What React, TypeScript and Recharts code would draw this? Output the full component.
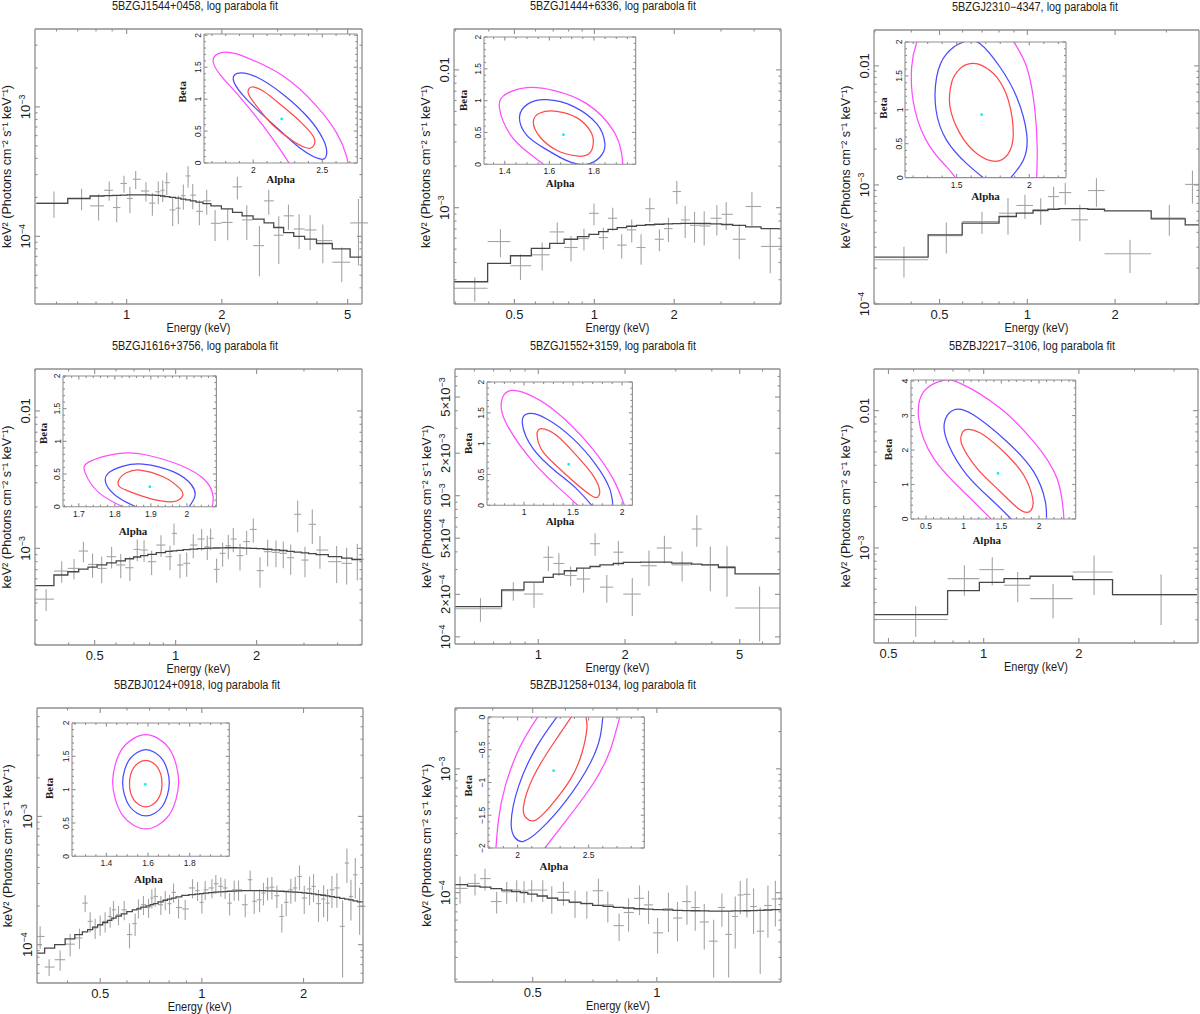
import React from 'react';
import { ComposedChart, XAxis, YAxis, Scatter, Line, ErrorBar } from 'recharts';

const FRAME = '#8f8f8f';
const DATA_C = '#a4a4a4';
const MODEL_C = '#474747';
const TXT = '#1c1c1c';
const RED = '#ff4a4a';
const BLUE = '#4a4aff';
const MAG = '#ff4cff';
const CYAN = '#00eeee';
const SANS = "'Liberation Sans', Arial, Helvetica, sans-serif";
const SERIF = "'Liberation Serif', 'Times New Roman', Times, serif";
const Y_TITLE = 'keV\u00b2 (Photons cm\u207b\u00b2 s\u207b\u00b9 keV\u207b\u00b9)';
const X_TITLE = 'Energy (keV)';

// ---------------- Panel 1 ----------------
const p1Title = '5BZGJ1544+0458, log parabola fit';
const p1Energy = [0.589, 0.72, 0.815, 0.881, 0.93, 0.981, 1.024, 1.068, 1.151, 1.206, 1.259, 1.3, 1.339, 1.398, 1.457, 1.511, 1.564, 1.618, 1.698, 1.791, 1.904, 2.087, 2.24, 2.398, 2.63, 2.814, 3.027, 3.249, 3.511, 3.804, 4.172, 4.79, 5.409];
const p1Flux = [1.805e-4, 1.96e-4, 1.72e-4, 2.27e-4, 1.67e-4, 2.56e-4, 1.96e-4, 2.76e-4, 2.24e-4, 1.805e-4, 2.21e-4, 2.27e-4, 2.6e-4, 1.6e-4, 1.65e-4, 2.06e-4, 2.93e-4, 2.08e-4, 1.56e-4, 1.88e-4, 1.26e-4, 1.28e-4, 2.41e-4, 1.34e-4, 8.48e-5, 1.88e-4, 1.02e-4, 1.44e-4, 1.14e-4, 1.12e-4, 9.26e-5, 6.31e-5, 1.27e-4];
const p1RelErr = [0.23, 0.19, 0.23, 0.17, 0.23, 0.15, 0.23, 0.16, 0.17, 0.2, 0.2, 0.19, 0.2, 0.25, 0.25, 0.22, 0.19, 0.22, 0.22, 0.22, 0.27, 0.27, 0.2, 0.3, 0.42, 0.22, 0.4, 0.22, 0.3, 0.3, 0.33, 0.3, 0.53];
const p1Model = [1.8e-4, 1.96e-4, 2.05e-4, 2.06e-4, 2.07e-4, 2.08e-4, 2.09e-4, 2.09e-4, 2.09e-4, 2.08e-4, 2.07e-4, 2.05e-4, 2.03e-4, 2.0e-4, 1.97e-4, 1.94e-4, 1.91e-4, 1.88e-4, 1.84e-4, 1.79e-4, 1.72e-4, 1.63e-4, 1.53e-4, 1.44e-4, 1.36e-4, 1.27e-4, 1.17e-4, 1.07e-4, 1.0e-4, 0.95e-4, 0.88e-4, 0.8e-4, 0.69e-4];
const p1BinRange = [0.518, 5.8];
const p1XMajor = [1, 2, 5];
const p1XLabels = ['1', '2', '5'];
const p1XMinor = [0.6, 0.7, 0.8, 0.9, 3, 4];
const p1YMajor = [1e-4, 1e-3];
const p1YLabels = ['10^\u22124', '10^\u22123'];
const p1YMinor = [4e-5, 5e-5, 6e-5, 7e-5, 8e-5, 9e-5, 2e-4, 3e-4, 4e-4, 5e-4, 6e-4, 7e-4, 8e-4, 9e-4, 2e-3, 3e-3];

// ---------------- Panel 2 ----------------
const p2Title = '5BZGJ1444+6336, log parabola fit';
const p2Energy = [0.3545, 0.443, 0.527, 0.636, 0.725, 0.817, 0.914, 0.997, 1.081, 1.173, 1.268, 1.383, 1.5, 1.618, 1.759, 1.902, 2.045, 2.199, 2.385, 2.594, 2.895, 3.14, 3.516, 3.924, 4.6];
const p2Flux = [2.6e-4, 5.68e-4, 3.79e-4, 4.55e-4, 6.67e-4, 5.14e-4, 5.97e-4, 9.1e-4, 6.07e-4, 8.38e-4, 5.35e-4, 6.9e-4, 5.14e-4, 9.84e-4, 5.9e-4, 7.05e-4, 1.31e-3, 8.15e-4, 7.45e-4, 7.37e-4, 8.38e-4, 8.95e-4, 5.9e-4, 1.02e-3, 5.23e-4];
const p2RelErr = [0.2, 0.23, 0.21, 0.23, 0.17, 0.21, 0.18, 0.18, 0.18, 0.19, 0.2, 0.19, 0.25, 0.2, 0.18, 0.2, 0.19, 0.26, 0.25, 0.28, 0.25, 0.23, 0.28, 0.28, 0.36];
const p2Model = [2.9e-4, 3.94e-4, 4.48e-4, 5.06e-4, 5.5e-4, 5.9e-4, 6.17e-4, 6.4e-4, 6.7e-4, 6.97e-4, 7.16e-4, 7.33e-4, 7.45e-4, 7.52e-4, 7.58e-4, 7.63e-4, 7.67e-4, 7.7e-4, 7.7e-4, 7.68e-4, 7.62e-4, 7.55e-4, 7.45e-4, 7.25e-4, 7.05e-4];
const p2BinRange = [0.296, 5.1];
const p2XMajor = [0.5, 1, 2];
const p2XLabels = ['0.5', '1', '2'];
const p2XMinor = [0.3, 0.4, 0.6, 0.7, 0.8, 0.9, 3, 4, 5];
const p2YMajor = [1e-3, 1e-2];
const p2YLabels = ['10^\u22123', '0.01'];
const p2YMinor = [3e-4, 4e-4, 5e-4, 6e-4, 7e-4, 8e-4, 9e-4, 2e-3, 3e-3, 4e-3, 5e-3, 6e-3, 7e-3, 8e-3, 9e-3];

// ---------------- Panel 3 ----------------
const p3Title = '5BZGJ2310\u22124347, log parabola fit';
const p3Edges = [0.298, 0.457, 0.598, 0.8, 0.917, 1.046, 1.177, 1.284, 1.415, 1.613, 1.84, 2.66, 3.48, 3.89];
const p3Flux = [2.35e-4, 3.74e-4, 4.93e-4, 5.79e-4, 6.72e-4, 6.18e-4, 7.98e-4, 8.63e-4, 5.09e-4, 8.97e-4, 2.64e-4, 5.26e-4, 1.01e-3];
const p3RelErr = [0.29, 0.29, 0.21, 0.34, 0.23, 0.25, 0.21, 0.21, 0.34, 0.27, 0.31, 0.29, 0.31];
const p3Model = [2.48e-4, 3.81e-4, 4.77e-4, 5.43e-4, 5.79e-4, 6.1e-4, 6.25e-4, 6.33e-4, 6.33e-4, 6.25e-4, 6.06e-4, 5.19e-4, 4.62e-4];
const p3XMajor = [0.5, 1, 2];
const p3XLabels = ['0.5', '1', '2'];
const p3XMinor = [0.3, 0.4, 0.6, 0.7, 0.8, 0.9, 3];
const p3YMajor = [1e-4, 1e-3, 1e-2];
const p3YLabels = ['10^\u22124', '10^\u22123', '0.01'];
const p3YMinor = [2e-4, 3e-4, 4e-4, 5e-4, 6e-4, 7e-4, 8e-4, 9e-4, 2e-3, 3e-3, 4e-3, 5e-3, 6e-3, 7e-3, 8e-3, 9e-3];

// ---------------- Panel 4 ----------------
const p4Title = '5BZGJ1616+3756, log parabola fit';
const p4Energy = [0.33, 0.377, 0.419, 0.454, 0.491, 0.531, 0.578, 0.625, 0.676, 0.72, 0.763, 0.814, 0.882, 0.953, 0.986, 1.038, 1.099, 1.163, 1.249, 1.311, 1.349, 1.42, 1.495, 1.57, 1.638, 1.735, 1.836, 1.944, 2.059, 2.198, 2.36, 2.513, 2.677, 2.842, 3.026, 3.222, 3.44, 3.968, 4.322, 4.735];
const p4Flux = [4.27e-4, 6.84e-4, 7.15e-4, 9.56e-4, 7.64e-4, 7.15e-4, 8.7e-4, 7.57e-4, 7.23e-4, 9.83e-4, 9.72e-4, 8.0e-4, 1.057e-3, 8.7e-4, 1.285e-3, 7.57e-4, 7.78e-4, 1.057e-3, 1.17e-3, 1.028e-3, 1.183e-3, 7.03e-4, 9.2e-4, 1.045e-3, 1.17e-3, 8.85e-4, 1.12e-3, 1.374e-3, 6.88e-4, 9.46e-4, 9.35e-4, 9.2e-4, 8.55e-4, 1.77e-3, 8.22e-4, 1.496e-3, 9.72e-4, 8.0e-4, 7.78e-4, 8.32e-4];
const p4RelErr = [0.18, 0.18, 0.17, 0.17, 0.2, 0.22, 0.18, 0.2, 0.2, 0.18, 0.18, 0.2, 0.18, 0.2, 0.18, 0.2, 0.2, 0.2, 0.18, 0.2, 0.18, 0.2, 0.2, 0.2, 0.2, 0.22, 0.2, 0.2, 0.25, 0.22, 0.22, 0.22, 0.25, 0.26, 0.25, 0.28, 0.27, 0.3, 0.3, 0.3];
const p4Model = [5.35e-4, 6.4e-4, 6.76e-4, 7.05e-4, 7.3e-4, 7.57e-4, 7.85e-4, 8.1e-4, 8.4e-4, 8.65e-4, 8.85e-4, 9.05e-4, 9.3e-4, 9.5e-4, 9.58e-4, 9.68e-4, 9.78e-4, 9.87e-4, 9.95e-4, 1.0e-3, 1.003e-3, 1.006e-3, 1.008e-3, 1.01e-3, 1.01e-3, 1.008e-3, 1.005e-3, 1.0e-3, 9.95e-4, 9.85e-4, 9.75e-4, 9.65e-4, 9.5e-4, 9.4e-4, 9.28e-4, 9.15e-4, 9.0e-4, 8.7e-4, 8.5e-4, 8.3e-4];
const p4BinRange = [0.3, 5.0];
const p4XMajor = [0.5, 1, 2];
const p4XLabels = ['0.5', '1', '2'];
const p4XMinor = [0.3, 0.4, 0.6, 0.7, 0.8, 0.9, 3, 4];
const p4YMajor = [1e-3, 1e-2];
const p4YLabels = ['10^\u22123', '0.01'];
const p4YMinor = [2e-4, 3e-4, 4e-4, 5e-4, 6e-4, 7e-4, 8e-4, 9e-4, 2e-3, 3e-3, 4e-3, 5e-3, 6e-3, 7e-3, 8e-3, 9e-3];

// ---------------- Panel 5 ----------------
const p5Title = '5BZGJ1552+3159, log parabola fit';
const p5Edges = [0.514, 0.746, 0.892, 1.041, 1.127, 1.231, 1.359, 1.512, 1.637, 1.821, 1.973, 2.266, 2.576, 2.904, 3.408, 3.691, 4.217, 4.819, 6.904];
const p5Flux = [1.58e-4, 2.12e-4, 2.01e-4, 3.66e-4, 3.31e-4, 2.72e-4, 2.57e-4, 4.57e-4, 2.25e-4, 3.98e-4, 2.01e-4, 3.19e-4, 4.26e-4, 3.24e-4, 5.81e-4, 3.24e-4, 3.15e-4, 1.6e-4];
const p5RelErr = [0.19, 0.15, 0.2, 0.2, 0.18, 0.16, 0.2, 0.18, 0.22, 0.2, 0.3, 0.28, 0.22, 0.24, 0.25, 0.35, 0.39, 0.42];
const p5Model = [1.64e-4, 2.15e-4, 2.44e-4, 2.64e-4, 2.78e-4, 2.94e-4, 3.07e-4, 3.15e-4, 3.24e-4, 3.31e-4, 3.37e-4, 3.38e-4, 3.38e-4, 3.33e-4, 3.28e-4, 3.24e-4, 3.1e-4, 2.79e-4];
const p5XMajor = [1, 2, 5];
const p5XLabels = ['1', '2', '5'];
const p5XMinor = [0.6, 0.7, 0.8, 0.9, 3, 4, 6];
const p5YMajor = [1e-4, 2e-4, 5e-4, 1e-3, 2e-3, 5e-3];
const p5YLabels = ['10^\u22124', '2\u00d710^\u22124', '5\u00d710^\u22124', '10^\u22123', '2\u00d710^\u22123', '5\u00d710^\u22123'];
const p5YMinor = [3e-4, 4e-4, 6e-4, 7e-4, 8e-4, 9e-4, 3e-3, 4e-3, 6e-3, 7e-3];

// ---------------- Panel 6 ----------------
const p6Title = '5BZBJ2217\u22123106, log parabola fit';
const p6Edges = [0.45, 0.769, 0.969, 1.16, 1.402, 1.912, 2.555, 4.721];
const p6Flux = [3.01e-4, 5.98e-4, 6.95e-4, 5.35e-4, 4.27e-4, 6.68e-4, 4.57e-4];
const p6RelErr = [0.25, 0.25, 0.23, 0.25, 0.28, 0.32, 0.4];
const p6Model = [3.27e-4, 4.89e-4, 5.62e-4, 5.98e-4, 6.22e-4, 5.88e-4, 4.57e-4];
const p6XMajor = [0.5, 1, 2];
const p6XLabels = ['0.5', '1', '2'];
const p6XMinor = [0.6, 0.7, 0.8, 0.9, 3, 4];
const p6YMajor = [1e-3, 1e-2];
const p6YLabels = ['10^\u22123', '0.01'];
const p6YMinor = [3e-4, 4e-4, 5e-4, 6e-4, 7e-4, 8e-4, 9e-4, 2e-3, 3e-3, 4e-3, 5e-3, 6e-3, 7e-3, 8e-3, 9e-3];

// ---------------- Panel 7 ----------------
const p7Title = '5BZBJ0124+0918, log parabola fit';
const p7Energy = [0.332, 0.353, 0.3805, 0.4074, 0.4342, 0.4513, 0.467, 0.4831, 0.4999, 0.5172, 0.5351, 0.5475, 0.5665, 0.5888, 0.6106, 0.6346, 0.6491, 0.6716, 0.6952, 0.7111, 0.7274, 0.7562, 0.7792, 0.8023, 0.8244, 0.853, 0.8925, 0.9384, 0.9709, 1.0, 1.023, 1.071, 1.1, 1.138, 1.172, 1.208, 1.247, 1.284, 1.344, 1.39, 1.429, 1.482, 1.522, 1.565, 1.612, 1.668, 1.725, 1.777, 1.834, 1.89, 1.946, 2.01, 2.084, 2.141, 2.215, 2.293, 2.356, 2.427, 2.511, 2.61, 2.688, 2.763, 2.846, 2.931];
const p7Flux = [1.16e-4, 6.7e-5, 7.64e-5, 1.01e-4, 1.13e-4, 2.11e-4, 1.52e-4, 1.35e-4, 1.43e-4, 1.52e-4, 1.66e-4, 1.87e-4, 1.71e-4, 1.87e-4, 1.2e-4, 1.46e-4, 1.93e-4, 2.05e-4, 1.95e-4, 2.31e-4, 2.38e-4, 2.05e-4, 2.24e-4, 2.09e-4, 2.56e-4, 1.95e-4, 1.9e-4, 2.77e-4, 2.64e-4, 2.14e-4, 2.68e-4, 2.77e-4, 2.99e-4, 2.85e-4, 2.77e-4, 2.11e-4, 2.68e-4, 2.68e-4, 2.05e-4, 3.21e-4, 2.18e-4, 2.24e-4, 2.53e-4, 2.77e-4, 2.81e-4, 2.41e-4, 1.66e-4, 2.14e-4, 2.68e-4, 2.77e-4, 3.4e-4, 2.31e-4, 2.72e-4, 2.85e-4, 2.09e-4, 2.27e-4, 2.11e-4, 2.68e-4, 2.77e-4, 1.39e-4, 4.33e-4, 2.38e-4, 3.51e-4, 1.99e-4];
const p7RelErr = [0.2, 0.15, 0.18, 0.2, 0.18, 0.15, 0.18, 0.18, 0.18, 0.18, 0.18, 0.17, 0.17, 0.17, 0.22, 0.2, 0.17, 0.17, 0.17, 0.17, 0.17, 0.17, 0.17, 0.17, 0.17, 0.18, 0.18, 0.17, 0.17, 0.18, 0.17, 0.17, 0.17, 0.17, 0.18, 0.2, 0.18, 0.18, 0.2, 0.18, 0.2, 0.2, 0.2, 0.2, 0.2, 0.2, 0.25, 0.22, 0.22, 0.22, 0.22, 0.25, 0.25, 0.25, 0.28, 0.28, 0.28, 0.28, 0.3, 0.6, 0.3, 0.35, 0.35, 0.4];
const p7Model = [8.6e-5, 9.4e-5, 1.0e-4, 1.11e-4, 1.2e-4, 1.26e-4, 1.31e-4, 1.37e-4, 1.43e-4, 1.49e-4, 1.55e-4, 1.61e-4, 1.67e-4, 1.74e-4, 1.81e-4, 1.87e-4, 1.9e-4, 1.96e-4, 2.01e-4, 2.05e-4, 2.09e-4, 2.16e-4, 2.22e-4, 2.27e-4, 2.31e-4, 2.36e-4, 2.42e-4, 2.46e-4, 2.48e-4, 2.5e-4, 2.52e-4, 2.55e-4, 2.57e-4, 2.58e-4, 2.59e-4, 2.61e-4, 2.62e-4, 2.63e-4, 2.64e-4, 2.64e-4, 2.64e-4, 2.64e-4, 2.64e-4, 2.63e-4, 2.63e-4, 2.62e-4, 2.61e-4, 2.6e-4, 2.58e-4, 2.57e-4, 2.56e-4, 2.54e-4, 2.51e-4, 2.49e-4, 2.46e-4, 2.43e-4, 2.4e-4, 2.37e-4, 2.34e-4, 2.3e-4, 2.27e-4, 2.24e-4, 2.2e-4, 2.16e-4];
const p7BinRange = [0.325, 3.05];
const p7XMajor = [0.5, 1, 2];
const p7XLabels = ['0.5', '1', '2'];
const p7XMinor = [0.4, 0.6, 0.7, 0.8, 0.9];
const p7YMajor = [1e-4, 1e-3];
const p7YLabels = ['10^\u22124', '10^\u22123'];
const p7YMinor = [6e-5, 7e-5, 8e-5, 9e-5, 2e-4, 3e-4, 4e-4, 5e-4, 6e-4, 7e-4, 8e-4, 9e-4, 2e-3, 3e-3, 4e-3, 5e-3, 6e-3];

// ---------------- Panel 8 ----------------
const p8Title = '5BZBJ1258+0134, log parabola fit';
const p8Energy = [0.3332, 0.3623, 0.3831, 0.4088, 0.4324, 0.4572, 0.4764, 0.4971, 0.5288, 0.5561, 0.5935, 0.6333, 0.6764, 0.7217, 0.7605, 0.81, 0.8537, 0.9077, 0.9545, 1.004, 1.067, 1.122, 1.183, 1.239, 1.303, 1.373, 1.438, 1.493, 1.549, 1.593, 1.653, 1.716, 1.781, 1.859, 1.938];
const p8Flux = [1.083e-4, 1.187e-4, 1.3e-4, 8.48e-5, 1.018e-4, 1.05e-4, 1.031e-4, 1.05e-4, 1.05e-4, 9.01e-5, 1.006e-4, 8.32e-5, 8.22e-5, 1.037e-4, 7.97e-5, 5.42e-5, 6.92e-5, 9.01e-5, 7.97e-5, 4.74e-5, 7.41e-5, 6.24e-5, 8.48e-5, 7.59e-5, 5.8e-5, 4.06e-5, 7.59e-5, 4.6e-5, 6.43e-5, 9.58e-5, 9.7e-5, 7.73e-5, 4.89e-5, 7.88e-5, 8.9e-5];
const p8RelErr = [0.25, 0.2, 0.2, 0.2, 0.2, 0.2, 0.2, 0.2, 0.2, 0.25, 0.22, 0.25, 0.25, 0.25, 0.28, 0.25, 0.3, 0.27, 0.3, 0.32, 0.35, 0.35, 0.35, 0.35, 0.4, 0.49, 0.3, 0.55, 0.45, 0.3, 0.35, 0.4, 0.55, 0.45, 0.4];
const p8Model = [1.16e-4, 1.13e-4, 1.11e-4, 1.08e-4, 1.05e-4, 1.02e-4, 1.0e-4, 9.75e-5, 9.4e-5, 9.05e-5, 8.7e-5, 8.4e-5, 8.15e-5, 7.9e-5, 7.75e-5, 7.6e-5, 7.52e-5, 7.42e-5, 7.37e-5, 7.3e-5, 7.26e-5, 7.21e-5, 7.17e-5, 7.15e-5, 7.13e-5, 7.11e-5, 7.1e-5, 7.1e-5, 7.12e-5, 7.13e-5, 7.15e-5, 7.17e-5, 7.2e-5, 7.25e-5, 7.3e-5];
const p8BinRange = [0.324, 2.02];
const p8XMajor = [0.5, 1];
const p8XLabels = ['0.5', '1'];
const p8XMinor = [0.4, 0.6, 0.7, 0.8, 0.9];
const p8YMajor = [1e-4, 1e-3];
const p8YLabels = ['10^\u22124', '10^\u22123'];
const p8YMinor = [2e-5, 3e-5, 4e-5, 5e-5, 6e-5, 7e-5, 8e-5, 9e-5, 2e-4, 3e-4, 4e-4, 5e-4, 6e-4, 7e-4, 8e-4, 9e-4, 2e-3, 3e-3];

// ---------------- Inset contours (Alpha, Beta) ----------------
const i1Red = [[1.988, 1.19], [2.072, 1.127], [2.217, 0.88], [2.35, 0.629], [2.435, 0.419], [2.442, 0.288], [2.399, 0.231], [2.29, 0.341], [2.145, 0.587], [2.024, 0.891], [1.964, 1.09]];
const i1Blue = [[1.884, 1.405], [2.024, 1.347], [2.217, 1.074], [2.399, 0.708], [2.507, 0.367], [2.531, 0.131], [2.483, 0.063], [2.338, 0.236], [2.145, 0.603], [1.952, 0.996], [1.86, 1.268]];
const i1Mag = [[2.29, -0.105], [2.145, 0.367], [1.928, 0.97], [1.758, 1.389], [1.71, 1.625], [1.771, 1.73], [1.855, 1.72], [1.952, 1.651], [2.217, 1.363], [2.459, 0.891], [2.604, 0.472], [2.676, 0.105], [2.7, -0.21]];
const i1Center = [2.206, 0.69];

const i2Red = [[1.528, 0.665], [1.558, 0.806], [1.633, 0.832], [1.722, 0.733], [1.782, 0.534], [1.797, 0.335], [1.775, 0.157], [1.722, 0.131], [1.633, 0.22], [1.558, 0.429]];
const i2Blue = [[1.466, 0.743], [1.506, 0.953], [1.588, 1.016], [1.707, 0.911], [1.812, 0.639], [1.849, 0.325], [1.827, 0.115], [1.767, 0.0], [1.692, 0.037], [1.588, 0.23], [1.499, 0.455]];
const i2Mag = [[1.603, -0.079], [1.506, 0.183], [1.424, 0.471], [1.376, 0.901], [1.409, 1.11], [1.499, 1.204], [1.618, 1.162], [1.767, 0.953], [1.886, 0.534], [1.924, 0.168], [1.931, -0.094]];
const i2Center = [1.663, 0.466];

const i3Red = [[1.592, 1.681], [1.672, 1.656], [1.775, 1.484], [1.856, 1.14], [1.89, 0.649], [1.856, 0.354], [1.764, 0.241], [1.638, 0.354], [1.523, 0.649], [1.454, 1.042], [1.466, 1.41], [1.523, 1.607]];
const i3Blue = [[1.706, -0.04], [1.569, 0.206], [1.431, 0.55], [1.358, 0.993], [1.362, 1.484], [1.431, 1.828], [1.546, 2.0], [1.661, 1.975], [1.798, 1.631], [1.913, 1.189], [1.982, 0.649], [1.959, 0.256], [1.856, -0.04]];
const i3MagLeft = [[1.236, 2.07], [1.225, 2.0], [1.19, 1.631], [1.213, 0.993], [1.317, 0.452], [1.431, 0.157], [1.505, -0.04]];
const i3MagRight = [[1.878, 2.05], [1.982, 1.631], [2.039, 0.993], [2.055, 0.403], [2.05, -0.04]];
const i3Center = [1.672, 0.929];

const i4Red = [[1.811, 0.408], [1.832, 0.52], [1.869, 0.561], [1.934, 0.459], [1.98, 0.281], [1.988, 0.163], [1.962, 0.077], [1.906, 0.112], [1.841, 0.23], [1.813, 0.306]];
const i4Blue = [[1.878, -0.051], [1.813, 0.128], [1.777, 0.332], [1.781, 0.51], [1.823, 0.622], [1.878, 0.653], [1.962, 0.536], [2.013, 0.332], [2.022, 0.153], [2.003, -0.026]];
const i4Mag = [[1.841, -0.051], [1.758, 0.204], [1.718, 0.51], [1.73, 0.689], [1.813, 0.816], [1.888, 0.791], [1.98, 0.638], [2.05, 0.408], [2.073, 0.153], [2.068, -0.051]];
const i4Center = [1.897, 0.306];

const i5Red = [[1.177, 1.243], [1.33, 1.135], [1.534, 0.811], [1.704, 0.486], [1.772, 0.243], [1.738, 0.124], [1.636, 0.216], [1.398, 0.541], [1.194, 0.865], [1.133, 1.135]];
const i5Blue = [[1.721, -0.054], [1.534, 0.27], [1.33, 0.541], [1.092, 0.919], [0.983, 1.324], [1.041, 1.486], [1.228, 1.405], [1.5, 1.081], [1.738, 0.649], [1.874, 0.27], [1.908, -0.027]];
const i5Mag = [[1.585, -0.054], [1.364, 0.27], [1.092, 0.703], [0.82, 1.324], [0.769, 1.676], [0.837, 1.849], [1.024, 1.811], [1.33, 1.514], [1.67, 0.973], [1.908, 0.432], [2.037, -0.054]];
const i5Center = [1.456, 0.665];

const i6Red = [[1.066, 2.599], [1.265, 2.435], [1.575, 1.855], [1.796, 1.275], [1.916, 0.599], [1.885, 0.232], [1.752, 0.261], [1.487, 0.792], [1.177, 1.469], [0.978, 2.145], [0.978, 2.483]];
const i6Blue = [[1.664, -0.077], [1.398, 0.502], [1.044, 1.275], [0.801, 2.145], [0.743, 2.773], [0.867, 3.159], [1.133, 3.014], [1.575, 2.242], [1.929, 1.372], [2.084, 0.502], [2.097, -0.077]];
const i6Mag = [[1.42, -0.126], [1.044, 0.696], [0.602, 1.758], [0.403, 2.918], [0.469, 3.691], [0.69, 4.0], [0.956, 3.932], [1.487, 3.208], [1.929, 2.242], [2.239, 1.179], [2.327, 0.116], [2.336, -0.174]];
const i6Center = [1.456, 1.324];

const i7Red = [[1.589, 1.44], [1.645, 1.337], [1.667, 1.09], [1.645, 0.843], [1.589, 0.74], [1.533, 0.843], [1.511, 1.09], [1.533, 1.337]];
const i7Blue = [[1.59, 1.6], [1.669, 1.455], [1.702, 1.103], [1.669, 0.751], [1.59, 0.605], [1.511, 0.751], [1.478, 1.103], [1.511, 1.455]];
const i7Mag = [[1.589, 1.825], [1.701, 1.618], [1.747, 1.118], [1.701, 0.618], [1.589, 0.41], [1.477, 0.618], [1.43, 1.118], [1.477, 1.618]];
const i7Center = [1.587, 1.08];

const i8Red = [[2.39, 0.036], [2.254, -0.397], [2.113, -0.906], [2.042, -1.364], [2.061, -1.542], [2.124, -1.578], [2.23, -1.364], [2.371, -0.957], [2.453, -0.55], [2.488, -0.168], [2.477, 0.036]];
const i8Blue = [[2.289, 0.036], [2.136, -0.448], [2.007, -1.059], [1.955, -1.618], [1.984, -1.847], [2.042, -1.898], [2.16, -1.72], [2.347, -1.262], [2.512, -0.702], [2.582, -0.295], [2.601, 0.036]];
const i8MagLeft = [[2.16, 0.061], [2.019, -0.448], [1.913, -1.059], [1.866, -1.567], [1.847, -2.025]];
const i8MagRight = [[2.183, -2.025], [2.347, -1.567], [2.535, -1.008], [2.653, -0.499], [2.723, 0.036]];
const i8Center = [2.254, -0.819];

// inset tick lists
const beta02Major = [0, 0.5, 1, 1.5, 2];
const beta02Labels = ['0', '0.5', '1', '1.5', '2'];
const beta02Minor = [0.1, 0.2, 0.3, 0.4, 0.6, 0.7, 0.8, 0.9, 1.1, 1.2, 1.3, 1.4, 1.6, 1.7, 1.8, 1.9];
const beta04Major = [0, 1, 2, 3, 4];
const beta04Labels = ['0', '1', '2', '3', '4'];
const beta04Minor = [0.2, 0.4, 0.6, 0.8, 1.2, 1.4, 1.6, 1.8, 2.2, 2.4, 2.6, 2.8, 3.2, 3.4, 3.6, 3.8];
const betaNegMajor = [-2, -1.5, -1, -0.5, 0];
const betaNegLabels = ['\u22122', '\u22121.5', '\u22121', '\u22120.5', '0'];
const betaNegMinor = [-1.9, -1.8, -1.7, -1.6, -1.4, -1.3, -1.2, -1.1, -0.9, -0.8, -0.7, -0.6, -0.4, -0.3, -0.2, -0.1];

// ---------------- helpers ----------------
function Lbl(props: any) {
  const { s, ...rest } = props;
  const i = s.indexOf('^');
  if (i < 0) return <text {...rest}>{s}</text>;
  const supSize = rest.fontSize * 0.68;
  return (
    <text {...rest}>
      {s.slice(0, i)}
      <tspan dy={-rest.fontSize * 0.4} fontSize={supSize}>{s.slice(i + 1)}</tspan>
    </text>
  );
}

function mkTick(side: string, major: number[], labels: string[] | null, big: number, small: number, fs: number, off: number) {
  return (props: any) => {
    const x = Number(props.x);
    const y = Number(props.y);
    const v = Number(props.payload && props.payload.value);
    const k = major.findIndex((m) => Math.abs(m - v) <= Math.abs(m) * 1e-6 + 1e-12);
    const len = k >= 0 ? big : small;
    let c = [x, y, x, y];
    if (side === 'bottom') c = [x, y, x, y - len];
    else if (side === 'top') c = [x, y, x, y + len];
    else if (side === 'left') c = [x, y, x + len, y];
    else c = [x, y, x - len, y];
    let text = null;
    if (labels && k >= 0) {
      const s = labels[k];
      if (side === 'bottom') {
        text = <Lbl s={s} x={x} y={y + off} textAnchor="middle" fontSize={fs} fontFamily={SANS} fill={TXT} />;
      } else if (side === 'left') {
        const tx = x - off;
        text = <Lbl s={s} x={tx} y={y} textAnchor="middle" fontSize={fs} fontFamily={SANS} fill={TXT} transform={`rotate(-90 ${tx} ${y})`} />;
      }
    }
    return (
      <g>
        <line x1={c[0]} y1={c[1]} x2={c[2]} y2={c[3]} stroke={FRAME} strokeWidth={1.1} />
        {text}
      </g>
    );
  };
}

function closedCurve(context: any) {
  let pts: number[][] = [];
  return {
    areaStart() {},
    areaEnd() {},
    lineStart() { pts = []; },
    point(x: number, y: number) { pts.push([+x, +y]); },
    lineEnd() {
      const n = pts.length;
      if (!n) return;
      context.moveTo(pts[0][0], pts[0][1]);
      for (let i = 0; i < n; i++) {
        const p0 = pts[(i - 1 + n) % n];
        const p1 = pts[i];
        const p2 = pts[(i + 1) % n];
        const p3 = pts[(i + 2) % n];
        context.bezierCurveTo(
          p1[0] + (p2[0] - p0[0]) / 6, p1[1] + (p2[1] - p0[1]) / 6,
          p2[0] - (p3[0] - p1[0]) / 6, p2[1] - (p3[1] - p1[1]) / 6,
          p2[0], p2[1]
        );
      }
      context.closePath();
    },
  };
}

const noShape = () => <g />;
const cyanDot = (props: any) => (
  <rect x={props.cx - 1.2} y={props.cy - 1.2} width={2.4} height={2.4} fill={CYAN} />
);

function makeBins(p: any) {
  if (p.edges) {
    const lo = p.edges.slice(0, -1);
    const hi = p.edges.slice(1);
    const c = lo.map((v: number, i: number) => (v + hi[i]) / 2);
    return { lo, hi, c };
  }
  const c = p.energy;
  const mids = c.slice(1).map((v: number, i: number) => Math.sqrt(v * c[i]));
  const lo = [p.binRange[0], ...mids];
  const hi = [...mids, p.binRange[1]];
  return { lo, hi, c };
}

const sortNum = (a: number[]) => [...a].sort((u, v) => u - v);

// ---------------- layout ----------------
const panels = [
  { title: p1Title, titleX: 195, frame: { l: 35, t: 29, r: 362, b: 304 }, xDomain: [0.513, 5.55], yDomain: [3.0e-5, 4.0e-3], energy: p1Energy, binRange: p1BinRange, flux: p1Flux, relErr: p1RelErr, model: p1Model, xMajor: p1XMajor, xLabels: p1XLabels, xMinor: p1XMinor, yMajor: p1YMajor, yLabels: p1YLabels, yMinor: p1YMinor },
  { title: p2Title, titleX: 613, frame: { l: 454, t: 29, r: 781, b: 304 }, xDomain: [0.296, 5.05], yDomain: [2.0e-4, 1.98e-2], energy: p2Energy, binRange: p2BinRange, flux: p2Flux, relErr: p2RelErr, model: p2Model, xMajor: p2XMajor, xLabels: p2XLabels, xMinor: p2XMinor, yMajor: p2YMajor, yLabels: p2YLabels, yMinor: p2YMinor },
  { title: p3Title, titleX: 1035, frame: { l: 874, t: 30, r: 1199, b: 304 }, xDomain: [0.298, 3.88], yDomain: [1.0e-4, 2.0e-2], edges: p3Edges, flux: p3Flux, relErr: p3RelErr, model: p3Model, xMajor: p3XMajor, xLabels: p3XLabels, xMinor: p3XMinor, yMajor: p3YMajor, yLabels: p3YLabels, yMinor: p3YMinor },
  { title: p4Title, titleX: 195, frame: { l: 35, t: 369, r: 362, b: 645 }, xDomain: [0.3, 4.93], yDomain: [1.98e-4, 2.02e-2], energy: p4Energy, binRange: p4BinRange, flux: p4Flux, relErr: p4RelErr, model: p4Model, xMajor: p4XMajor, xLabels: p4XLabels, xMinor: p4XMinor, yMajor: p4YMajor, yLabels: p4YLabels, yMinor: p4YMinor },
  { title: p5Title, titleX: 613, frame: { l: 455, t: 369, r: 780, b: 644 }, xDomain: [0.514, 6.9], yDomain: [8.9e-5, 7.9e-3], edges: p5Edges, flux: p5Flux, relErr: p5RelErr, model: p5Model, xMajor: p5XMajor, xLabels: p5XLabels, xMinor: p5XMinor, yMajor: p5YMajor, yLabels: p5YLabels, yMinor: p5YMinor },
  { title: p6Title, titleX: 1032, frame: { l: 874, t: 369, r: 1198, b: 643 }, xDomain: [0.45, 4.76], yDomain: [2.03e-4, 2.01e-2], edges: p6Edges, flux: p6Flux, relErr: p6RelErr, model: p6Model, xMajor: p6XMajor, xLabels: p6XLabels, xMinor: p6XMinor, yMajor: p6YMajor, yLabels: p6YLabels, yMinor: p6YMinor },
  { title: p7Title, titleX: 197, frame: { l: 36.7, t: 708.3, r: 362.7, b: 983.3 }, xDomain: [0.325, 3.0], yDomain: [5.03e-5, 7.0e-3], energy: p7Energy, binRange: p7BinRange, flux: p7Flux, relErr: p7RelErr, model: p7Model, xMajor: p7XMajor, xLabels: p7XLabels, xMinor: p7XMinor, yMajor: p7YMajor, yLabels: p7YLabels, yMinor: p7YMinor },
  { title: p8Title, titleX: 613, frame: { l: 455, t: 708.3, r: 781, b: 982.3 }, xDomain: [0.324, 2.0], yDomain: [1.9e-5, 3.1e-3], energy: p8Energy, binRange: p8BinRange, flux: p8Flux, relErr: p8RelErr, model: p8Model, xMajor: p8XMajor, xLabels: p8XLabels, xMinor: p8XMinor, yMajor: p8YMajor, yLabels: p8YLabels, yMinor: p8YMinor },
];

const insets = [
  { frame: { l: 204, t: 34.3, r: 357.3, b: 163.3 }, xDomain: [1.643, 2.754], yDomain: [0, 2.02], xMajor: [2, 2.5], xLabels: ['2', '2.5'], xMinor: [1.7, 1.8, 1.9, 2.1, 2.2, 2.3, 2.4, 2.6, 2.7], yMajor: beta02Major, yLabels: beta02Labels, yMinor: beta02Minor, contours: [{ c: MAG, pts: i1Mag }, { c: BLUE, pts: i1Blue, closed: true }, { c: RED, pts: i1Red, closed: true }], center: i1Center, alphaDx: 0, alphaDy: 19.7, betaDx: 18.3, betaDy: -7 },
  { frame: { l: 484.3, t: 36.7, r: 636, b: 164 }, xDomain: [1.307, 1.987], yDomain: [0, 2], xMajor: [1.4, 1.6, 1.8], xLabels: ['1.4', '1.6', '1.8'], xMinor: [1.35, 1.45, 1.5, 1.55, 1.65, 1.7, 1.75, 1.85, 1.9, 1.95], yMajor: beta02Major, yLabels: beta02Labels, yMinor: beta02Minor, contours: [{ c: MAG, pts: i2Mag }, { c: BLUE, pts: i2Blue, closed: true }, { c: RED, pts: i2Red, closed: true }], center: i2Center, alphaDx: 0, alphaDy: 23.3, betaDx: 17.6, betaDy: 0 },
  { frame: { l: 905, t: 41.7, r: 1066, b: 177.3 }, xDomain: [1.144, 2.253], yDomain: [0, 2], xMajor: [1.5, 2], xLabels: ['1.5', '2'], xMinor: [1.2, 1.3, 1.4, 1.6, 1.7, 1.8, 1.9, 2.1, 2.2], yMajor: beta02Major, yLabels: beta02Labels, yMinor: beta02Minor, contours: [{ c: MAG, pts: i3MagLeft }, { c: MAG, pts: i3MagRight }, { c: BLUE, pts: i3Blue }, { c: RED, pts: i3Red, closed: true }], center: i3Center, alphaDx: 0, alphaDy: 22.7, betaDx: 17.7, betaDy: -1.5 },
  { frame: { l: 63.3, t: 376, r: 216.7, b: 506.7 }, xDomain: [1.656, 2.082], yDomain: [0, 2], xMajor: [1.7, 1.8, 1.9, 2], xLabels: ['1.7', '1.8', '1.9', '2'], xMinor: [1.66, 1.68, 1.72, 1.74, 1.76, 1.78, 1.82, 1.84, 1.86, 1.88, 1.92, 1.94, 1.96, 1.98, 2.02, 2.04, 2.06, 2.08], yMajor: beta02Major, yLabels: beta02Labels, yMinor: beta02Minor, contours: [{ c: MAG, pts: i4Mag }, { c: BLUE, pts: i4Blue }, { c: RED, pts: i4Red, closed: true }], center: i4Center, alphaDx: -7, alphaDy: 28.6, betaDx: 16, betaDy: -8 },
  { frame: { l: 487.3, t: 381.7, r: 632.7, b: 505 }, xDomain: [0.622, 2.106], yDomain: [0, 2], xMajor: [1, 1.5, 2], xLabels: ['1', '1.5', '2'], xMinor: [0.7, 0.8, 0.9, 1.1, 1.2, 1.3, 1.4, 1.6, 1.7, 1.8, 1.9], yMajor: beta02Major, yLabels: beta02Labels, yMinor: beta02Minor, contours: [{ c: MAG, pts: i5Mag }, { c: BLUE, pts: i5Blue }, { c: RED, pts: i5Red, closed: true }], center: i5Center, alphaDx: 0, alphaDy: 20, betaDx: 15.6, betaDy: 0 },
  { frame: { l: 911, t: 380, r: 1075.7, b: 519 }, xDomain: [0.301, 2.487], yDomain: [0, 4.03], xMajor: [0.5, 1, 1.5, 2], xLabels: ['0.5', '1', '1.5', '2'], xMinor: [0.4, 0.6, 0.7, 0.8, 0.9, 1.1, 1.2, 1.3, 1.4, 1.6, 1.7, 1.8, 1.9, 2.1, 2.2, 2.3, 2.4], yMajor: beta04Major, yLabels: beta04Labels, yMinor: beta04Minor, contours: [{ c: MAG, pts: i6Mag }, { c: BLUE, pts: i6Blue }, { c: RED, pts: i6Red, closed: true }], center: i6Center, alphaDx: -6.6, alphaDy: 25, betaDx: 19.3, betaDy: 0 },
  { frame: { l: 71.7, t: 722.7, r: 229, b: 856 }, xDomain: [1.235, 1.99], yDomain: [0, 2], xMajor: [1.4, 1.6, 1.8], xLabels: ['1.4', '1.6', '1.8'], xMinor: [1.25, 1.3, 1.35, 1.45, 1.5, 1.55, 1.65, 1.7, 1.75, 1.85, 1.9, 1.95], yMajor: beta02Major, yLabels: beta02Labels, yMinor: beta02Minor, contours: [{ c: MAG, pts: i7Mag, closed: true }, { c: BLUE, pts: i7Blue, closed: true }, { c: RED, pts: i7Red, closed: true }], center: i7Center, alphaDx: -2, alphaDy: 27.3, betaDx: 18.4, betaDy: -1 },
  { frame: { l: 487.7, t: 717.3, r: 644, b: 848.3 }, xDomain: [1.792, 2.892], yDomain: [-2, 0], xMajor: [2, 2.5], xLabels: ['2', '2.5'], xMinor: [1.8, 1.9, 2.1, 2.2, 2.3, 2.4, 2.6, 2.7, 2.8], yMajor: betaNegMajor, yLabels: betaNegLabels, yMinor: betaNegMinor, contours: [{ c: MAG, pts: i8MagLeft }, { c: MAG, pts: i8MagRight }, { c: BLUE, pts: i8Blue }, { c: RED, pts: i8Red }], center: i8Center, alphaDx: -12, alphaDy: 21.7, betaDx: 15.4, betaDy: 3 },
];

const AX = 10;
const PAD = { l: 45, r: 12, t: 24, b: 40 };
const IPAD = { l: 30, r: 10, t: 10, b: 18 };
const axisLine = { stroke: FRAME, strokeWidth: 1.3 };

function MainPanel({ p }: any) {
  const f = p.frame;
  const W = f.r - f.l + PAD.l + PAD.r;
  const H = f.b - f.t + PAD.t + PAD.b;
  const { lo, hi, c } = makeBins(p);
  const pts = c.map((x: number, i: number) => ({
    x,
    y: p.flux[i],
    ex: [x - lo[i], hi[i] - x],
    ey: [p.flux[i] * p.relErr[i], p.flux[i] * p.relErr[i]],
  }));
  const model = lo.map((x: number, i: number) => ({ x, m: p.model[i] }));
  model.push({ x: hi[hi.length - 1], m: p.model[p.model.length - 1] });
  const xt = sortNum([...p.xMajor, ...p.xMinor]);
  const yt = sortNum([...p.yMajor, ...p.yMinor]);
  const common: any = { type: 'number', scale: 'log', allowDataOverflow: true, interval: 0, tickSize: 0, tickMargin: 0, tickLine: false, axisLine };
  return (
    <div style={{ position: 'absolute', left: f.l - PAD.l, top: f.t - PAD.t, width: W, height: H }}>
      <ComposedChart width={W} height={H} margin={{ top: PAD.t - AX, right: PAD.r - AX, bottom: PAD.b - AX, left: PAD.l - AX }}>
        <XAxis xAxisId="b" orientation="bottom" height={AX} dataKey="x" domain={p.xDomain} ticks={xt} tick={mkTick('bottom', p.xMajor, p.xLabels, 5, 2.5, 13, 15)} {...common} />
        <XAxis xAxisId="t" orientation="top" height={AX} dataKey="x" domain={p.xDomain} ticks={xt} tick={mkTick('top', p.xMajor, null, 5, 2.5, 13, 0)} {...common} />
        <YAxis yAxisId="l" orientation="left" width={AX} dataKey="y" domain={p.yDomain} ticks={yt} tick={mkTick('left', p.yMajor, p.yLabels, 5, 2.5, 13, 5)} {...common} />
        <YAxis yAxisId="r" orientation="right" width={AX} dataKey="y" domain={p.yDomain} ticks={yt} tick={mkTick('right', p.yMajor, null, 5, 2.5, 13, 0)} {...common} />
        <Scatter xAxisId="b" yAxisId="l" data={pts} shape={noShape} isAnimationActive={false}>
          <ErrorBar dataKey="ex" direction="x" width={0} stroke={DATA_C} strokeWidth={1.1} isAnimationActive={false} />
          <ErrorBar dataKey="ey" direction="y" width={0} stroke={DATA_C} strokeWidth={1.1} isAnimationActive={false} />
        </Scatter>
        <Line xAxisId="b" yAxisId="l" data={model} dataKey="m" type="stepAfter" stroke={MODEL_C} strokeWidth={1.3} dot={false} activeDot={false} isAnimationActive={false} />
      </ComposedChart>
    </div>
  );
}

function InsetPanel({ s }: any) {
  const f = s.frame;
  const W = f.r - f.l + IPAD.l + IPAD.r;
  const H = f.b - f.t + IPAD.t + IPAD.b;
  const xt = sortNum([...s.xMajor, ...s.xMinor]);
  const yt = sortNum([...s.yMajor, ...s.yMinor]);
  const common: any = { type: 'number', allowDataOverflow: true, interval: 0, tickSize: 0, tickMargin: 0, tickLine: false, axisLine: { stroke: FRAME, strokeWidth: 1.1 } };
  return (
    <>
      <div style={{ position: 'absolute', left: f.l, top: f.t, width: f.r - f.l, height: f.b - f.t, background: '#ffffff' }} />
      <div style={{ position: 'absolute', left: f.l - IPAD.l, top: f.t - IPAD.t, width: W, height: H }}>
        <ComposedChart width={W} height={H} margin={{ top: IPAD.t - AX, right: IPAD.r - AX, bottom: IPAD.b - AX, left: IPAD.l - AX }}>
          <XAxis xAxisId="b" orientation="bottom" height={AX} dataKey="a" domain={s.xDomain} ticks={xt} tick={mkTick('bottom', s.xMajor, s.xLabels, 3.5, 2, 8.5, 10)} {...common} />
          <XAxis xAxisId="t" orientation="top" height={AX} dataKey="a" domain={s.xDomain} ticks={xt} tick={mkTick('top', s.xMajor, null, 3.5, 2, 8.5, 0)} {...common} />
          <YAxis yAxisId="l" orientation="left" width={AX} dataKey="b" domain={s.yDomain} ticks={yt} tick={mkTick('left', s.yMajor, s.yLabels, 3.5, 2, 8.5, 2.5)} {...common} />
          <YAxis yAxisId="r" orientation="right" width={AX} dataKey="b" domain={s.yDomain} ticks={yt} tick={mkTick('right', s.yMajor, null, 3.5, 2, 8.5, 0)} {...common} />
          {s.contours.map((ct: any, i: number) => (
            <Line
              key={i}
              xAxisId="b"
              yAxisId="l"
              data={ct.pts.map((q: number[]) => ({ a: q[0], b: q[1] }))}
              dataKey="b"
              type={ct.closed ? closedCurve : 'natural'}
              stroke={ct.c}
              strokeWidth={1.25}
              dot={false}
              activeDot={false}
              isAnimationActive={false}
            />
          ))}
          <Scatter xAxisId="b" yAxisId="l" data={[{ a: s.center[0], b: s.center[1] }]} shape={cyanDot} isAnimationActive={false} />
        </ComposedChart>
      </div>
    </>
  );
}

function TextLayer() {
  return (
    <svg width={1200} height={1014} style={{ position: 'absolute', left: 0, top: 0, pointerEvents: 'none' }}>
      {panels.map((p, i) => {
        const f = p.frame;
        const cy = (f.t + f.b) / 2;
        const yx = f.l - 24.2;
        return (
          <g key={i} fill={TXT} fontFamily={SANS}>
            <text x={p.titleX} y={f.t - 19.5} textAnchor="middle" fontSize={12} textLength={166} lengthAdjust="spacingAndGlyphs">{p.title}</text>
            <text x={(f.l + f.r) / 2} y={f.b + 28} textAnchor="middle" fontSize={13} textLength={64} lengthAdjust="spacingAndGlyphs">{X_TITLE}</text>
            <text x={yx} y={cy} textAnchor="middle" fontSize={12.5} textLength={163} lengthAdjust="spacingAndGlyphs" transform={`rotate(-90 ${yx} ${cy})`}>{Y_TITLE}</text>
          </g>
        );
      })}
      {insets.map((s, i) => {
        const f = s.frame;
        const bx = f.l - s.betaDx;
        const by = (f.t + f.b) / 2 + s.betaDy;
        return (
          <g key={'i' + i} fill={TXT} fontFamily={SERIF} fontWeight="bold" fontSize={11}>
            <text x={(f.l + f.r) / 2 + s.alphaDx} y={f.b + s.alphaDy} textAnchor="middle">Alpha</text>
            <text x={bx} y={by} textAnchor="middle" transform={`rotate(-90 ${bx} ${by})`}>Beta</text>
          </g>
        );
      })}
    </svg>
  );
}

export default function App() {
  return (
    <div style={{ position: 'absolute', left: 0, top: 0, width: 1200, height: 1014, overflow: 'hidden', background: '#ffffff' }}>
      {panels.map((p, i) => (
        <MainPanel key={'m' + i} p={p} />
      ))}
      {insets.map((s, i) => (
        <InsetPanel key={'n' + i} s={s} />
      ))}
      <TextLayer />
    </div>
  );
}
